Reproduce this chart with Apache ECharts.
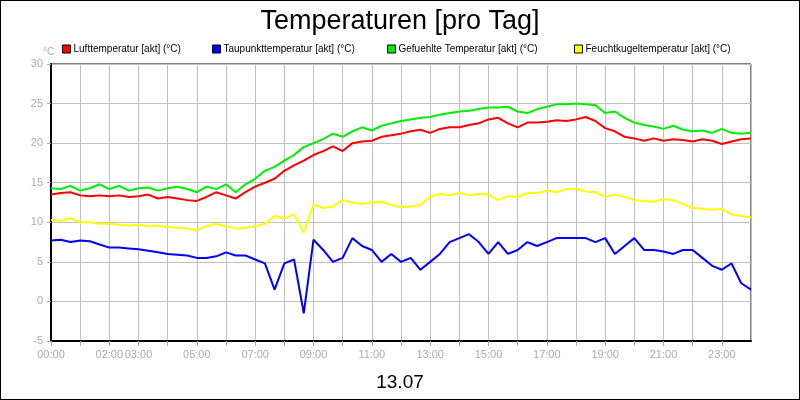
<!DOCTYPE html>
<html><head><meta charset="utf-8">
<script src="https://cdn.jsdelivr.net/npm/echarts@6/dist/echarts.min.js"></script>
<style>html,body{margin:0;padding:0;background:#fff}#c{width:798px;height:398px;border:1px solid #000}</style>
</head><body><div id="c"></div>
<script>
const seriesNames = ['Lufttemperatur [akt] (°C)','Taupunkttemperatur [akt] (°C)','Gefuehlte Temperatur [akt] (°C)','Feuchtkugeltemperatur [akt] (°C)'];
const xLabelHours = [0,2,3,5,7,9,11,13,15,17,19,21,23];
const hours = Array.from({length:73},(_, i)=>i/3);
const luft = [
13.5,13.7,13.8, 13.4,13.3,13.4, 13.3,13.4,13.2, 13.3,13.5,13.0, 13.2,13.0,12.8, 12.7,13.2,13.8,
13.4,13.0,13.8, 14.5,15.0,15.5, 16.5,17.2,17.8, 18.5,19.0,19.6, 19.0,20.0,20.2, 20.3,20.8,21.0,
21.2,21.5,21.7, 21.3,21.8,22.0, 22.0,22.3,22.5, 23.0,23.2,22.5, 22.0,22.6,22.6, 22.7,22.9,22.8,
23.0,23.3,22.8, 21.9,21.5,20.8, 20.6,20.3,20.6, 20.3,20.5,20.4, 20.2,20.5,20.3, 19.9,20.2,20.5, 20.6];
const taupunkt = [
7.7,7.8,7.5, 7.7,7.6,7.2, 6.8,6.8,6.7, 6.6,6.4,6.2, 6.0,5.9,5.8, 5.5,5.5,5.7,
6.2,5.8,5.8, 5.3,4.8,1.5, 4.8,5.3,-1.5, 7.8,6.5,5.0, 5.5,8.0,7.0, 6.5,5.0,6.0,
5.0,5.5,4.0, 5.0,6.0,7.5, 8.0,8.5,7.5, 6.0,7.5,6.0, 6.5,7.5,7.0, 7.5,8.0,8.0,
8.0,8.0,7.5, 8.0,6.0,7.0, 8.0,6.5,6.5, 6.3,6.0,6.5, 6.5,5.5,4.5, 4.0,4.8,2.3, 1.5];
const gefuehlt = [
14.3,14.2,14.6, 14.0,14.3,14.8, 14.2,14.6,14.0, 14.3,14.4,14.0, 14.3,14.5,14.2, 13.8,14.5,14.2,
14.8,13.8,14.8, 15.5,16.5,17.0, 17.8,18.5,19.5, 20.0,20.5,21.2, 20.8,21.5,22.0, 21.6,22.2,22.5,
22.8,23.0,23.2, 23.3,23.6,23.8, 24.0,24.1,24.3, 24.5,24.5,24.6, 24.0,23.8,24.3, 24.6,24.9,24.9,
25.0,24.9,24.8, 23.8,24.0,23.2, 22.6,22.3,22.1, 21.8,22.2,21.7, 21.5,21.6,21.3, 21.8,21.3,21.2, 21.3];
const feuchtkugel = [
10.3,10.2,10.5, 10.0,10.0,9.8, 9.8,9.7,9.6, 9.7,9.5,9.6, 9.4,9.3,9.2, 9.0,9.5,9.8,
9.5,9.2,9.3, 9.5,9.8,10.8, 10.5,11.0,8.7, 12.3,11.8,12.0, 12.8,12.5,12.3, 12.5,12.6,12.2,
11.9,12.0,12.2, 13.2,13.6,13.4, 13.7,13.4,13.6, 13.5,12.8,13.3, 13.2,13.7,13.7, 14.0,13.8,14.2,
14.2,13.9,13.8, 13.2,13.5,13.2, 12.8,12.7,12.6, 12.9,12.8,12.3, 11.8,11.7,11.6, 11.7,11.0,10.8, 10.6];
const colors = ['#ff0000','#0000ff','#00ee00','#ffff00'];
const values = [luft,taupunkt,gefuehlt,feuchtkugel];
const legendLeft = [56,206,381,568];
const pad = n => String(n).padStart(2,'0')+':00';
const chart = echarts.init(document.getElementById('c'));
const F = 'Liberation Sans, Arial, sans-serif';
chart.setOption({
  animation:false,
  title:[{text:'Temperaturen [pro Tag]',left:'center',top:2,textStyle:{fontFamily:F,fontSize:27,fontWeight:'normal',color:'#000'}},
         {text:'13.07',left:'center',top:367,textStyle:{fontFamily:F,fontSize:19,fontWeight:'normal',color:'#000'}},
         {text:'°C',left:37,top:41,textStyle:{fontFamily:F,fontSize:10,fontWeight:'normal',color:'#aaa'}}],
  legend:seriesNames.map((n,i)=>({left:legendLeft[i],top:38,icon:'rect',itemWidth:8,itemHeight:8,
    textStyle:{fontFamily:F,fontSize:10,color:'#000',padding:[0,0,0,-2]},
    data:[{name:n,itemStyle:{color:colors[i],borderColor:'#000',borderWidth:1}}]})),
  grid:{left:50,right:48,top:63,bottom:58,show:true,borderColor:'#000',borderWidth:1},
  xAxis:{type:'value',min:0,max:24,interval:1,
    axisLine:{onZero:false,lineStyle:{color:'#000',width:2}},
    axisTick:{show:true,length:5,lineStyle:{color:'#aaa'}},
    axisLabel:{fontFamily:F,fontSize:11,color:'#aaa',showMaxLabel:false,
      formatter:v=>xLabelHours.includes(v)?pad(v):''},
    splitLine:{show:true,lineStyle:{color:'#c0c0c0',width:1}}},
  yAxis:{type:'value',min:-5,max:30,interval:5,
    axisLine:{show:true,onZero:false,lineStyle:{color:'#000',width:2}},
    axisTick:{show:true,length:4,lineStyle:{color:'#aaa'}},
    axisLabel:{fontFamily:F,fontSize:11,color:'#aaa'},
    splitLine:{show:true,lineStyle:{color:'#c0c0c0',width:1}}},
  series:seriesNames.map((n,i)=>({name:n,type:'line',showSymbol:false,
    lineStyle:{color:colors[i],width:2},itemStyle:{color:colors[i]},
    data:hours.map((h,k)=>[h,values[i][k]])}))
});
</script></body></html>
